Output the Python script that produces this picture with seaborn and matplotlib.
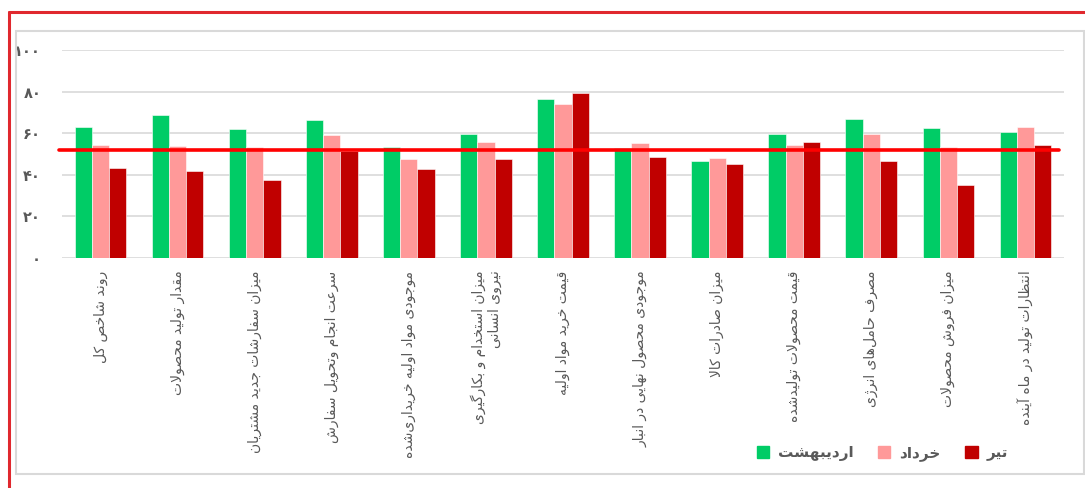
import matplotlib
matplotlib.use("Agg")
import matplotlib.pyplot as plt
import matplotlib.patches as mpatches
from matplotlib.lines import Line2D
import seaborn as sns
import pandas as pd

# ---------------- data ----------------
categories = [
    "روند شاخص کل",
    "مقدار تولید محصولات",
    "میزان سفارشات جدید مشتریان",
    "سرعت انجام وتحویل سفارش",
    "موجودی مواد اولیه خریداری\u200cشده",
    "میزان استخدام و بکارگیری\nنیروی انسانی",
    "قیمت خرید مواد اولیه",
    "موجودی محصول نهایی در انبار",
    "میزان صادرات کالا",
    "قیمت محصولات تولیدشده",
    "مصرف حامل\u200cهای انرژی",
    "میزان فروش محصولات",
    "انتظارات تولید در ماه آینده",
]
months = ["اردیبهشت", "خرداد", "تیر"]
ordibehesht = [63.0, 68.6, 61.9, 66.5, 53.6, 59.7, 76.3, 52.9, 46.6, 59.7, 67.0, 62.7, 60.6]
khordad = [54.2, 53.8, 53.3, 59.2, 47.5, 56.0, 73.9, 55.3, 48.0, 54.5, 59.7, 53.3, 63.0]
tir = [43.3, 41.6, 37.4, 51.4, 42.7, 47.7, 79.5, 48.5, 45.4, 55.8, 46.4, 35.2, 54.1]
threshold = 51.7
yticks = [0, 20, 40, 60, 80, 100]
colors = ["#00CC66", "#FF9999", "#C00000"]

# ------------- simple Persian shaping (matplotlib has no bidi/shaping) -------------
FORMS = {
    "\u0627": ("\uFE8D", "\uFE8E", None, None),
    "\u0622": ("\uFE81", "\uFE82", None, None),
    "\u0628": ("\uFE8F", "\uFE90", "\uFE91", "\uFE92"),
    "\u067E": ("\uFB56", "\uFB57", "\uFB58", "\uFB59"),
    "\u062A": ("\uFE95", "\uFE96", "\uFE97", "\uFE98"),
    "\u062B": ("\uFE99", "\uFE9A", "\uFE9B", "\uFE9C"),
    "\u062C": ("\uFE9D", "\uFE9E", "\uFE9F", "\uFEA0"),
    "\u0686": ("\uFB7A", "\uFB7B", "\uFB7C", "\uFB7D"),
    "\u062D": ("\uFEA1", "\uFEA2", "\uFEA3", "\uFEA4"),
    "\u062E": ("\uFEA5", "\uFEA6", "\uFEA7", "\uFEA8"),
    "\u062F": ("\uFEA9", "\uFEAA", None, None),
    "\u0630": ("\uFEAB", "\uFEAC", None, None),
    "\u0631": ("\uFEAD", "\uFEAE", None, None),
    "\u0632": ("\uFEAF", "\uFEB0", None, None),
    "\u0698": ("\uFB8A", "\uFB8B", None, None),
    "\u0633": ("\uFEB1", "\uFEB2", "\uFEB3", "\uFEB4"),
    "\u0634": ("\uFEB5", "\uFEB6", "\uFEB7", "\uFEB8"),
    "\u0635": ("\uFEB9", "\uFEBA", "\uFEBB", "\uFEBC"),
    "\u0636": ("\uFEBD", "\uFEBE", "\uFEBF", "\uFEC0"),
    "\u0637": ("\uFEC1", "\uFEC2", "\uFEC3", "\uFEC4"),
    "\u0638": ("\uFEC5", "\uFEC6", "\uFEC7", "\uFEC8"),
    "\u0639": ("\uFEC9", "\uFECA", "\uFECB", "\uFECC"),
    "\u063A": ("\uFECD", "\uFECE", "\uFECF", "\uFED0"),
    "\u0641": ("\uFED1", "\uFED2", "\uFED3", "\uFED4"),
    "\u0642": ("\uFED5", "\uFED6", "\uFED7", "\uFED8"),
    "\u06A9": ("\uFB8E", "\uFB8F", "\uFB90", "\uFB91"),
    "\u06AF": ("\uFB92", "\uFB93", "\uFB94", "\uFB95"),
    "\u0644": ("\uFEDD", "\uFEDE", "\uFEDF", "\uFEE0"),
    "\u0645": ("\uFEE1", "\uFEE2", "\uFEE3", "\uFEE4"),
    "\u0646": ("\uFEE5", "\uFEE6", "\uFEE7", "\uFEE8"),
    "\u0648": ("\uFEED", "\uFEEE", None, None),
    "\u0647": ("\uFEE9", "\uFEEA", "\uFEEB", "\uFEEC"),
    "\u06CC": ("\uFBFC", "\uFBFD", "\uFBFE", "\uFBFF"),
}
LAMALEF = {"\u0627": ("\uFEFB", "\uFEFC"), "\u0622": ("\uFEF5", "\uFEF6")}


def dual(c):
    return c in FORMS and FORMS[c][2] is not None


def shape_line(s):
    chars = list(s)
    out = []
    i = 0
    n = len(chars)
    while i < n:
        c = chars[i]
        if c not in FORMS:
            if c != "\u200c":
                out.append(c)
            i += 1
            continue
        prev = chars[i - 1] if i > 0 else None
        joins_prev = prev is not None and dual(prev)
        if c == "\u0644" and i + 1 < n and chars[i + 1] in LAMALEF:
            iso, fin = LAMALEF[chars[i + 1]]
            out.append(fin if joins_prev else iso)
            i += 2
            continue
        nxt = chars[i + 1] if i + 1 < n else None
        joins_next = dual(c) and nxt is not None and nxt in FORMS
        iso, fin, ini, med = FORMS[c]
        if joins_prev and joins_next:
            out.append(med)
        elif joins_prev:
            out.append(fin)
        elif joins_next:
            out.append(ini)
        else:
            out.append(iso)
        i += 1
    return "".join(reversed(out))


def fa(s):
    return "\n".join(shape_line(line) for line in s.split("\n"))


def fa_digits(v):
    return "".join(chr(0x06F0 + int(d)) for d in str(v))


# ---------------- figure ----------------
sns.set_theme(style="white")
plt.rcParams["font.family"] = ["DejaVu Sans"]

df = pd.DataFrame({
    "category": categories * 3,
    "month": [months[0]] * 13 + [months[1]] * 13 + [months[2]] * 13,
    "value": ordibehesht + khordad + tir,
})

fig = plt.figure(figsize=(10.85, 4.88), dpi=100)
ax = fig.add_axes([62 / 1085, 1 - 258 / 488, (1064 - 62) / 1085, (258 - 50) / 488])

sns.barplot(data=df, x="category", y="value", hue="month", order=categories,
            hue_order=months, palette=colors, width=0.67, ax=ax,
            errorbar=None, legend=False, saturation=1, zorder=2)
for p in ax.patches:
    p.set_edgecolor("white")
    p.set_linewidth(0.4)

ax.set_ylim(0, 100)
ax.set_xlim(-0.5, len(categories) - 0.5)
ax.set_yticks(yticks)
ax.set_yticklabels([fa_digits(v) for v in yticks], fontsize=10.5, fontweight="bold",
                   color="#595959")
ax.tick_params(axis="y", length=0, pad=15)
ax.tick_params(axis="x", length=0, pad=9)
ax.set_xticks(range(len(categories)))
ax.set_xticklabels([fa(c) for c in categories], rotation=90, fontsize=10,
                   color="#595959", ha="center", va="top", multialignment="right")
ax.yaxis.grid(True, color="#D9D9D9", linewidth=1.2, zorder=0)
ax.set_axisbelow(True)
for sp in ax.spines.values():
    sp.set_visible(False)
ax.set_xlabel("")
ax.set_ylabel("")

ax.axhline(threshold, xmin=-0.003, xmax=0.995, color="#FF0000", linewidth=2.6, zorder=5,
           clip_on=False)

# legend
handles = [mpatches.Patch(color=c) for c in colors]
fig.legend(handles, [fa(m) for m in months], ncol=3, loc="center left",
           bbox_to_anchor=(743 / 1085, 1 - 453 / 488), frameon=False,
           prop={"size": 11, "weight": "bold"}, labelcolor="#595959",
           handlelength=0.8, handleheight=0.8, handletextpad=0.6, columnspacing=1.6)

# borders
fig.add_artist(Line2D([9 / 1085, 9 / 1085], [0, 1 - 12 / 488], transform=fig.transFigure,
                      color="#E0282E", linewidth=2.2))
fig.add_artist(Line2D([9 / 1085, 1], [1 - 12 / 488, 1 - 12 / 488], transform=fig.transFigure,
                      color="#E0282E", linewidth=2.2))
fig.add_artist(mpatches.Rectangle((16 / 1085, 1 - 474 / 488), (1084 - 16) / 1085,
                                  (474 - 31) / 488, transform=fig.transFigure,
                                  fill=False, edgecolor="#D9D9D9", linewidth=1.5))

fig.savefig("out.png", dpi=100)
